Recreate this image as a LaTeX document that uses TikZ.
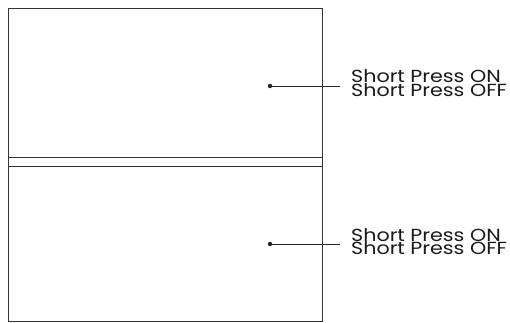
\documentclass[tikz,border=0pt]{standalone}
\usepackage{fontspec}
\setmainfont{Poppins}[FakeStretch=1.18]
\usetikzlibrary{positioning}
\begin{document}
\begin{tikzpicture}[x=1pt,y=-1pt]
    \tikzstyle{frame}=[draw=black!80,line width=1pt]
    \tikzstyle{dot}=[circle,fill=black!85,inner sep=0pt,minimum size=4.5pt]
    \tikzstyle{lead}=[draw=black!85,line width=0.9pt]
    \tikzstyle{annot}=[anchor=base west,inner sep=0pt,text=black!90,font=\fontsize{17.5}{13}\selectfont]

    \useasboundingbox (0,0) rectangle (510,323);

    % Draw the outer frame and the seam between the panels
    \draw[frame] (8,9) rectangle (322,321);
    \draw[frame] (8,157) -- (322,157);
    \draw[frame] (8,166) -- (322,166);

    % Press points with their labels
    \foreach \name / \y in {up/86,down/244}
    {
        \node[dot] (P-\name) at (270,\y) {};
        \coordinate (E-\name) at (340,\y);
        \node[annot] (On-\name) at (351,\y-3) {Short Press ON};
        \node[annot] (Off-\name) at ([yshift=-13.5pt]On-\name.base west) {Short Press OFF};
        \draw[lead] (P-\name) -- (E-\name);
    }
\end{tikzpicture}
\end{document}
